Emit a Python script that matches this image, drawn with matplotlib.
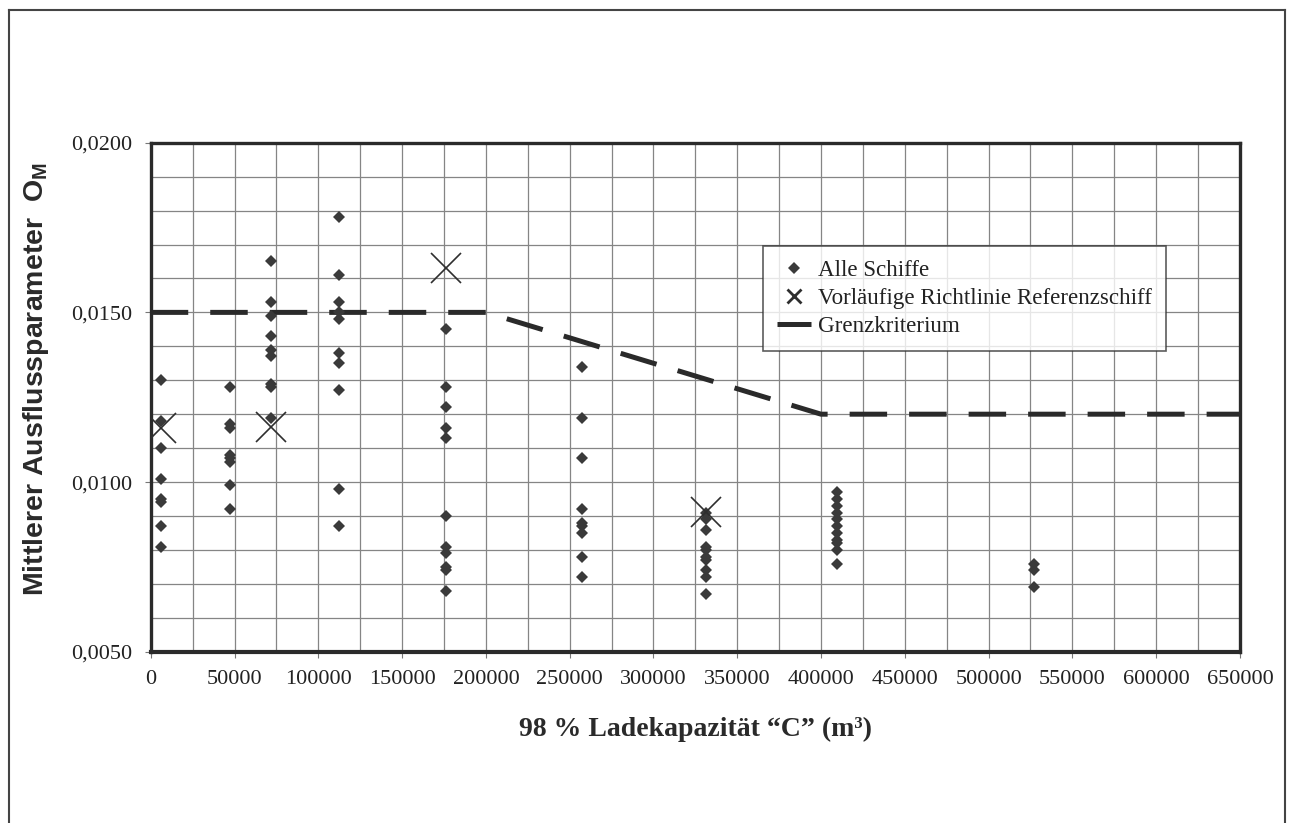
import matplotlib
matplotlib.use("Agg")
import matplotlib.pyplot as plt
from matplotlib.lines import Line2D
from matplotlib.ticker import MultipleLocator, FuncFormatter
import numpy as np

# capacity of each ship group (m3) and the outflow parameters
group_capacity = [6000, 47300, 71600, 112200, 176200, 257500, 331200, 409700, 526900]
group_values = [
    [0.0130, 0.0118, 0.0110, 0.0101, 0.0095, 0.0094, 0.0087, 0.0081],
    [0.0128, 0.0117, 0.0116, 0.0108, 0.0107, 0.0106, 0.0099, 0.0092],
    [0.0165, 0.0153, 0.0149, 0.0143, 0.0139, 0.0137, 0.0129, 0.0128, 0.0119],
    [0.0178, 0.0161, 0.0153, 0.0150, 0.0148, 0.0138, 0.0135, 0.0127, 0.0098, 0.0087],
    [0.0145, 0.0128, 0.0122, 0.0116, 0.0113, 0.0090, 0.0081, 0.0079, 0.0075, 0.0074, 0.0068],
    [0.0134, 0.0119, 0.0107, 0.0092, 0.0088, 0.0087, 0.0085, 0.0078, 0.0072],
    [0.0091, 0.0089, 0.0086, 0.0081, 0.0080, 0.0078, 0.0077, 0.0074, 0.0072, 0.0067],
    [0.0097, 0.0095, 0.0093, 0.0091, 0.0089, 0.0087, 0.0085, 0.0083, 0.0082, 0.0080, 0.0076],
    [0.0076, 0.0074, 0.0069],
]

ref_capacity = [6000, 71600, 176200, 331200]
ref_values = [0.01158, 0.01163, 0.0163, 0.00913]

limit_capacity = [0, 200000, 400000, 650000]
limit_values = [0.0150, 0.0150, 0.0120, 0.0120]

labels = ["Alle Schiffe", "Vorläufige Richtlinie Referenzschiff", "Grenzkriterium"]

DARK = "#3a3a3a"


def main():
    plt.rcParams["font.family"] = ["Liberation Serif", "DejaVu Serif"]
    plt.rcParams["mathtext.fontset"] = "custom"
    plt.rcParams["mathtext.bf"] = "Liberation Sans:bold"
    plt.rcParams["mathtext.rm"] = "Liberation Sans"

    fig = plt.figure(figsize=(12.95, 8.23), dpi=100)
    ax = fig.add_axes([0.1164, 0.2081, 0.8411, 0.6185])

    xs = np.concatenate([[c] * len(v) for c, v in zip(group_capacity, group_values)])
    ys = np.concatenate(group_values)

    ax.plot(limit_capacity, limit_values, color="#2a2a2a", lw=3.6,
            dashes=(7.5, 4.4), solid_capstyle="butt", dash_capstyle="butt", zorder=3)
    ax.plot(xs, ys, "D", color=DARK, ms=6.6, mew=0, zorder=4)
    ax.plot(ref_capacity, ref_values, "x", color="#2e2e2e", ms=22, mew=1.2, zorder=5)

    ax.set_xlim(0, 650000)
    ax.set_ylim(0.005, 0.020)
    ax.xaxis.set_major_locator(MultipleLocator(50000))
    ax.xaxis.set_minor_locator(MultipleLocator(25000))
    ax.yaxis.set_major_locator(MultipleLocator(0.005))
    ax.yaxis.set_minor_locator(MultipleLocator(0.001))
    ax.xaxis.set_major_formatter(FuncFormatter(lambda v, p: "%d" % v))
    ax.yaxis.set_major_formatter(FuncFormatter(lambda v, p: ("%.4f" % v).replace(".", ",")))
    ax.grid(which="both", color="#858585", lw=0.9)
    ax.set_axisbelow(True)

    ax.tick_params(which="major", direction="out", length=4, width=0.8, color="#777777",
                   labelsize=16, pad=9, labelcolor="#222222")
    ax.tick_params(which="minor", length=0)
    for s in ax.spines.values():
        s.set_linewidth(2.4)
        s.set_color("#2a2a2a")
    ax.spines["bottom"].set_linewidth(3)

    ax.set_xlabel("98 % Ladekapazität “C” (m³)", fontsize=20, fontweight="bold",
                  color="#2a2a2a", labelpad=20)
    ax.set_ylabel(r"Mittlerer Ausflussparameter  $\mathbf{O_M}$", fontsize=20.5,
                  family="Liberation Sans", fontweight="bold", color="#2a2a2a")
    ax.yaxis.set_label_coords(-0.092, 0.535)

    handles = [
        Line2D([], [], ls="none", marker="D", color=DARK, ms=6, mew=0),
        Line2D([], [], ls="none", marker="x", color="#2e2e2e", ms=10, mew=2),
        Line2D([], [], color="#2a2a2a", lw=3.6, solid_capstyle="butt"),
    ]
    leg = ax.legend(handles, labels, loc="upper left", bbox_to_anchor=(0.562, 0.797),
                    fontsize=16.6, frameon=True, fancybox=False, handlelength=1.5,
                    handletextpad=0.3, labelspacing=0.3, borderpad=0.6, borderaxespad=0)
    leg.get_frame().set_edgecolor("#333333")
    leg.get_frame().set_linewidth(1.2)
    for t in leg.get_texts():
        t.set_color("#222222")

    # scanned page frame around the figure
    for xd, yd in [([0.007, 0.007], [-0.1, 0.988]), ([0.007, 0.9923], [0.988, 0.988]),
                   ([0.9923, 0.9923], [0.988, -0.1])]:
        fig.add_artist(Line2D(xd, yd, color="#444444", lw=1.5, transform=fig.transFigure))

    fig.savefig("out.png", dpi=100)


if __name__ == '__main__':
    main()
